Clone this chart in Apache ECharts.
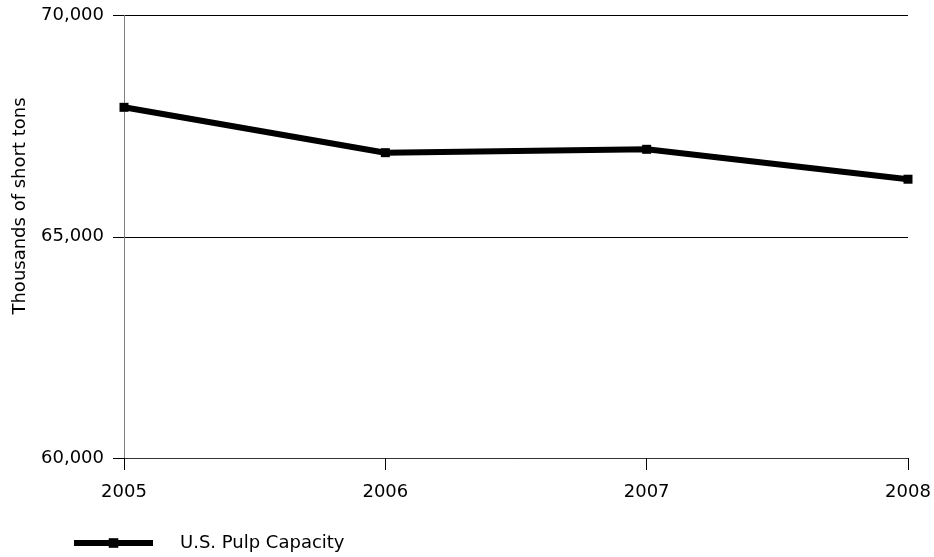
<!DOCTYPE html>
<html>
<head>
<meta charset="utf-8">
<script src="https://cdn.jsdelivr.net/npm/echarts@6/dist/echarts.min.js"></script>
<style>html,body{margin:0;padding:0;background:#fff}#c{width:934px;height:557px}</style>
</head>
<body>
<div id="c"></div>
<script>
var categories = ['2005', '2006', '2007', '2008'];
var pulpCapacity = [67925, 66900, 66976, 66300];
var seriesName = 'U.S. Pulp Capacity';
var yAxisTitle = 'Thousands of short tons';

var chart = echarts.init(document.getElementById('c'));
var font = '"DejaVu Sans", "Liberation Sans", Arial, sans-serif';
chart.setOption({
  animation: false,
  backgroundColor: '#fff',
  grid: { left: 124, right: 26, top: 15.5, bottom: 99 },
  xAxis: {
    type: 'category',
    data: categories,
    boundaryGap: false,
    axisLine: { lineStyle: { color: '#333', width: 1 } },
    axisTick: { length: 12, lineStyle: { color: '#000' } },
    axisLabel: { color: '#000', fontSize: 18, fontFamily: font, margin: 25 },
    splitLine: { show: false }
  },
  yAxis: {
    type: 'value',
    min: 60000, max: 70000, interval: 5000,
    axisLine: { show: true, lineStyle: { color: '#808080', width: 1 } },
    axisTick: { show: true, length: 11, lineStyle: { color: '#000' } },
    axisLabel: { color: '#000', fontSize: 18, fontFamily: font, margin: 20,
      formatter: function (v) { return v.toLocaleString('en-US'); } },
    splitLine: { show: true, lineStyle: { color: '#000', width: 1 } }
  },
  legend: {
    left: 71, top: 534, padding: 0,
    itemWidth: 79, itemHeight: 12,
    data: [seriesName],
    lineStyle: { width: 6, color: '#000' },
    textStyle: { color: '#000', fontSize: 18, fontFamily: font, padding: [0, 0, 0, 22] }
  },
  graphic: [{
    type: 'text',
    x: 20, y: 206,
    rotation: Math.PI / 2,
    style: { text: yAxisTitle, fill: '#000', font: '18px ' + font, textAlign: 'center', textVerticalAlign: 'middle' }
  }],
  series: [{
    name: seriesName,
    type: 'line',
    data: pulpCapacity,
    symbol: 'rect',
    symbolSize: 9,
    showAllSymbol: true,
    lineStyle: { color: '#000', width: 6 },
    itemStyle: { color: '#000' }
  }]
});
</script>
</body>
</html>
